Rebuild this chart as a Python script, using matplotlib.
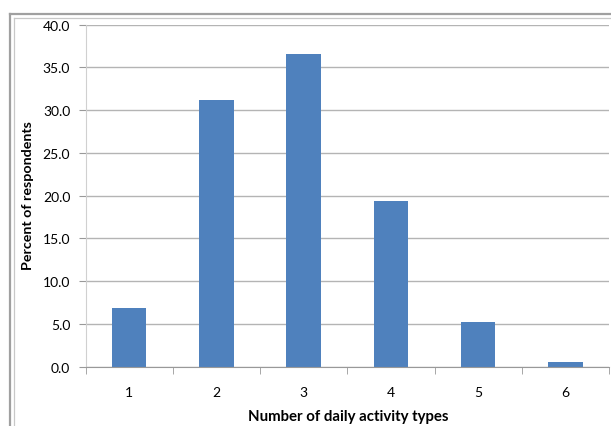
import matplotlib
matplotlib.use("Agg")
import matplotlib.pyplot as plt
from matplotlib.lines import Line2D

categories = ["1", "2", "3", "4", "5", "6"]
values = [6.9, 31.2, 36.6, 19.4, 5.2, 0.6]
yticks = [0, 5, 10, 15, 20, 25, 30, 35, 40]

W, H = 611, 427
fig = plt.figure(figsize=(W / 100, H / 100), dpi=100)
plt.rcParams['font.family'] = ['Lato', 'DejaVu Sans']

def fx(px):
    return px / W

def fy(py):
    return 1 - py / H

# chart-area frame (outer dark, inner light)
fig.add_artist(Line2D([fx(10), fx(10)], [0, fy(15)], color="#a0a0a0", lw=1.6, transform=fig.transFigure))
fig.add_artist(Line2D([fx(10), 1.0], [fy(15), fy(15)], color="#a0a0a0", lw=1.6, transform=fig.transFigure))
fig.add_artist(Line2D([fx(13.5), fx(13.5)], [0, fy(18.5)], color="#c8c8c8", lw=0.9, transform=fig.transFigure))
fig.add_artist(Line2D([fx(13.5), 1.0], [fy(18.5), fy(18.5)], color="#c8c8c8", lw=0.9, transform=fig.transFigure))

left, right, top, bottom = 85.5, 609, 25.7, 367.7
ax = fig.add_axes([fx(left), fy(bottom), fx(right) - fx(left), fy(top) - fy(bottom)])

x = list(range(len(categories)))
ax.bar(x, values, width=0.395, color="#4F81BD", zorder=3)
ax.set_xlim(-0.5, len(categories) - 0.5)
ax.set_ylim(0, 40)

ax.set_yticks(yticks)
ax.set_yticklabels([f"{v:.1f}" for v in yticks], fontsize=10)
ax.set_xticks(x)
ax.set_xticklabels(categories, fontsize=10)
ax.set_xticks([i - 0.5 for i in range(len(categories) + 1)], minor=True)

ax.tick_params(axis="x", which="major", length=0, pad=14)
ax.tick_params(axis="x", which="minor", length=5, color="#999999", direction="out")
ax.tick_params(axis="y", which="major", length=5, color="#999999", direction="out", pad=6)

ax.grid(axis="y", color="#b4b4b4", lw=1.0, zorder=0)
for s in ["top", "right"]:
    ax.spines[s].set_visible(False)
ax.spines["left"].set_color("#d0d0d0")
ax.spines["bottom"].set_color("#999999")
ax.spines["bottom"].set_zorder(4)

fig.text(fx(348), fy(417), "Number of daily activity types", ha="center", va="center",
         fontsize=10.8, fontweight="bold")
fig.text(fx(28), fy(196), "Percent of respondents", ha="center", va="center",
         rotation=90, fontsize=10.3, fontweight="bold")

fig.savefig("out.png", dpi=100)
